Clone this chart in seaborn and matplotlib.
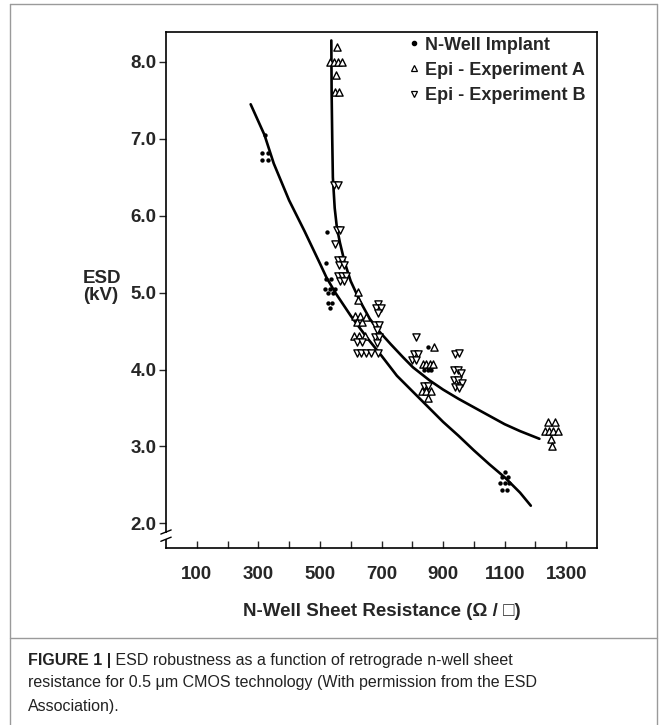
import matplotlib
matplotlib.use("Agg")
import matplotlib.pyplot as plt
from matplotlib.lines import Line2D
from matplotlib.patches import Rectangle
import seaborn as sns
import pandas as pd

sns.set_theme(style="white")
plt.rcParams['font.family'] = ['Liberation Sans', 'DejaVu Sans']

# ---- data ----
nwell_x = [321, 312, 332, 312, 332, 524, 521, 519, 537, 516, 532, 548, 525, 541,
           525, 539, 532, 851, 838, 850, 862,
           1100, 1090, 1110, 1085, 1100, 1115, 1093, 1107]
nwell_y = [7.05, 6.82, 6.82, 6.72, 6.72, 5.79, 5.38, 5.18, 5.18, 5.05, 5.05, 5.05, 4.99, 4.99,
           4.86, 4.86, 4.80, 4.30, 4.00, 4.00, 4.00,
           2.67, 2.60, 2.60, 2.52, 2.52, 2.52, 2.44, 2.44]

epiA_x = [556, 532, 545, 558, 571, 551, 548, 562,
          624, 624, 615, 630, 622, 637, 650, 612, 628, 645,
          870, 834, 845, 856, 866, 851, 830, 845, 860,
          1240, 1262, 1230, 1244, 1258, 1272, 1252, 1255]
epiA_y = [8.20, 8.00, 8.00, 8.00, 8.00, 7.83, 7.61, 7.61,
          5.01, 4.90, 4.70, 4.70, 4.62, 4.62, 4.68, 4.44, 4.44, 4.44,
          4.29, 4.07, 4.07, 4.07, 4.07, 3.63, 3.72, 3.72, 3.72,
          3.32, 3.32, 3.20, 3.20, 3.20, 3.20, 3.10, 3.00]

epiB_x = [545, 560, 556, 566, 548, 558, 572, 563, 577, 558, 572, 585, 565, 578,
          690, 682, 697, 688, 680, 692, 686, 680, 692, 686,
          620, 636, 620, 635, 650, 665, 688,
          813, 805, 818, 800, 812, 837, 852,
          940, 953, 935, 948, 958, 935, 948, 960, 940, 953]
epiB_y = [6.40, 6.40, 5.81, 5.81, 5.63, 5.43, 5.43, 5.36, 5.36, 5.22, 5.22, 5.22, 5.15, 5.15,
          4.85, 4.80, 4.80, 4.73, 4.58, 4.58, 4.52, 4.42, 4.42, 4.35,
          4.36, 4.36, 4.22, 4.22, 4.22, 4.22, 4.21,
          4.42, 4.20, 4.20, 4.13, 4.13, 3.79, 3.79,
          4.20, 4.22, 4.00, 4.00, 3.96, 3.86, 3.86, 3.82, 3.78, 3.76]

# fitted curves
nwell_fit_x = [275, 320, 350, 400, 450, 500, 521, 550, 600, 650, 700, 750, 800,
               850, 900, 950, 1000, 1050, 1100, 1150, 1185]
nwell_fit_y = [7.45, 7.05, 6.68, 6.20, 5.80, 5.38, 5.20, 5.00, 4.70, 4.43, 4.18, 3.92, 3.72,
               3.52, 3.32, 3.14, 2.95, 2.77, 2.60, 2.40, 2.23]

epi_fit_x = [537, 538, 540, 542, 548, 555, 565, 580, 600, 629, 662, 694, 730, 770,
             802, 856, 900, 950, 1018, 1100, 1150, 1213]
epi_fit_y = [8.28, 7.60, 7.00, 6.50, 6.10, 5.85, 5.65, 5.40, 5.15, 4.90, 4.66, 4.49, 4.33, 4.16,
             4.03, 3.86, 3.74, 3.62, 3.47, 3.29, 3.20, 3.10]

labels = ["N-Well Implant", "Epi - Experiment A", "Epi - Experiment B"]
x_ticks = list(range(100, 1301, 100))
x_ticklabels = [str(v) if v % 200 == 100 else "" for v in x_ticks]
y_ticks = [2, 3, 4, 5, 6, 7, 8]
y_ticklabels = ["2.0", "3.0", "4.0", "5.0", "6.0", "7.0", "8.0"]

caption_bold = "FIGURE 1 |"
caption_lines = [" ESD robustness as a function of retrograde n-well sheet",
                 "resistance for 0.5 \u03bcm CMOS technology (With permission from the ESD",
                 "Association)."]

# ---- figure ----
W, H = 667, 725
fig = plt.figure(figsize=(W / 100, H / 100), dpi=100)
fig.patch.set_facecolor("white")

L, R, T, B = 166, 597, 32, 548
ax = fig.add_axes([L / W, 1 - B / H, (R - L) / W, (B - T) / H])
ax.set_facecolor("white")

df_fit1 = pd.DataFrame({"x": nwell_fit_x, "y": nwell_fit_y})
df_fit2 = pd.DataFrame({"x": epi_fit_x, "y": epi_fit_y})
sns.lineplot(data=df_fit1, x="x", y="y", sort=False, estimator=None, color="black",
             linewidth=1.9, ax=ax, zorder=2)
sns.lineplot(data=df_fit2, x="x", y="y", sort=False, estimator=None, color="black",
             linewidth=1.9, ax=ax, zorder=2)

sns.scatterplot(x=nwell_x, y=nwell_y, marker="o", s=10, color="black",
                edgecolor="black", linewidth=0, ax=ax, zorder=4)
sns.scatterplot(x=epiA_x, y=epiA_y, marker="^", s=27, facecolor="white",
                edgecolor="black", linewidth=1.0, ax=ax, zorder=3)
sns.scatterplot(x=epiB_x, y=epiB_y, marker="v", s=27, facecolor="white",
                edgecolor="black", linewidth=1.0, ax=ax, zorder=3)

ax.set_xlim(0, 1400)
ax.set_ylim(1.68, 8.39)
ax.set_xticks(x_ticks)
ax.set_xticklabels(x_ticklabels)
ax.set_yticks(y_ticks)
ax.set_yticklabels(y_ticklabels)
ax.tick_params(axis="x", direction="in", length=5, width=1, pad=13, labelsize=13.5)
ax.tick_params(axis="y", direction="out", length=5, width=1, pad=2, labelsize=13.5)
ax.tick_params(bottom=True, left=True)
for lab in ax.get_xticklabels() + ax.get_yticklabels():
    lab.set_fontweight("bold")
for sp in ax.spines.values():
    sp.set_color("black")
    sp.set_linewidth(1.2)
ax.set_xlabel("N-Well Sheet Resistance (\u03a9 / \u25a1)", fontsize=13.5,
              fontweight="bold", labelpad=14)
ax.set_ylabel("")
ax.text(-0.193, 0.506, "ESD\n(kV)", transform=ax.transAxes, ha="left", va="center",
        fontsize=13.5, fontweight="bold", linespacing=1.0)

# axis break mark
ax.add_patch(Rectangle((-0.01, 0.018), 0.02, 0.012, transform=ax.transAxes,
                       facecolor="white", edgecolor="none", clip_on=False, zorder=5))
for yy in (0.017, 0.031):
    ax.plot([-0.012, 0.012], [yy - 0.004, yy + 0.004], transform=ax.transAxes,
            color="black", lw=1.0, clip_on=False, zorder=6)

handles = [
    Line2D([], [], marker="o", linestyle="none", markersize=3.0, color="black"),
    Line2D([], [], marker="^", linestyle="none", markersize=4.5, markerfacecolor="white",
           markeredgecolor="black", markeredgewidth=0.9),
    Line2D([], [], marker="v", linestyle="none", markersize=4.5, markerfacecolor="white",
           markeredgecolor="black", markeredgewidth=0.9),
]
ax.legend(handles, labels, loc="upper left", bbox_to_anchor=(0.545, 1.005), frameon=False,
          prop={"weight": "bold", "size": 13}, handlelength=0.6, handletextpad=0.35,
          labelspacing=0.45, borderaxespad=0)

# page frame
frame_col = "#9a9a9a"
fig.add_artist(Line2D([10 / W, 10 / W], [0, 1 - 4 / H], transform=fig.transFigure,
                      color=frame_col, lw=1))
fig.add_artist(Line2D([657 / W, 657 / W], [0, 1 - 4 / H], transform=fig.transFigure,
                      color=frame_col, lw=1))
fig.add_artist(Line2D([10 / W, 657 / W], [1 - 4 / H, 1 - 4 / H], transform=fig.transFigure,
                      color=frame_col, lw=1))
fig.add_artist(Line2D([10 / W, 657 / W], [1 - 638 / H, 1 - 638 / H], transform=fig.transFigure,
                      color=frame_col, lw=1))

cap_font = ['Liberation Sans Narrow', 'Liberation Sans', 'DejaVu Sans']
t0 = fig.text(28 / W, 1 - 660 / H, caption_bold, fontsize=11.5, fontweight="bold",
              family=cap_font, va="center", ha="left", color="#222222")
fig.canvas.draw()
bb = t0.get_window_extent()
fig.text(bb.x1 / W, 1 - 660 / H, caption_lines[0], fontsize=11.5, family=cap_font,
         va="center", ha="left", color="#222222")
fig.text(28 / W, 1 - 683 / H, caption_lines[1], fontsize=11.5, family=cap_font,
         va="center", ha="left", color="#222222")
fig.text(28 / W, 1 - 706 / H, caption_lines[2], fontsize=11.5, family=cap_font,
         va="center", ha="left", color="#222222")

fig.savefig("out.png", dpi=100, facecolor="white")
